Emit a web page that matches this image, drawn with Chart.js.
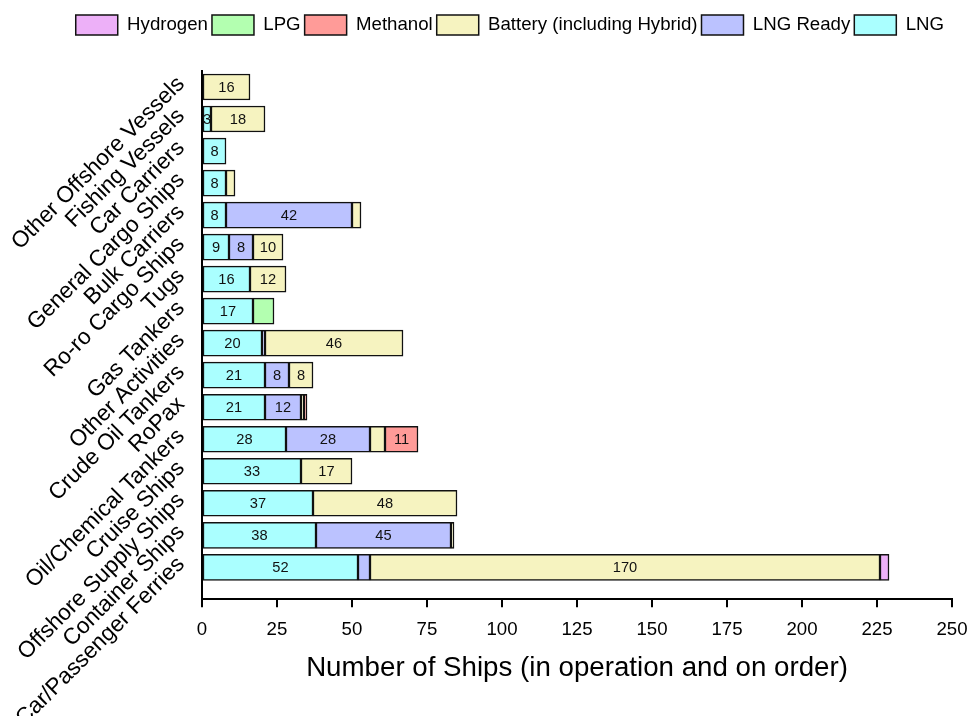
<!DOCTYPE html>
<html>
<head>
<meta charset="utf-8">
<script src="https://cdn.jsdelivr.net/npm/chart.js@4.4.1/dist/chart.umd.min.js"></script>
<style>
  html, body { margin: 0; padding: 0; background: #fff; }
  #wrap { width: 972px; height: 716px; position: relative; }
</style>
</head>
<body>
<div id="wrap"><canvas id="shipChart"></canvas></div>
<script>
const categories = ['Other Offshore Vessels', 'Fishing Vessels', 'Car Carriers', 'General Cargo Ships',
  'Bulk Carriers', 'Ro-ro Cargo Ships', 'Tugs', 'Gas Tankers', 'Other Activities', 'Crude Oil Tankers',
  'RoPax', 'Oil/Chemical Tankers', 'Cruise Ships', 'Offshore Supply Ships', 'Container Ships',
  'Car/Passenger Ferries'];

const lng      = [0, 3, 8, 8, 8, 9, 16, 17, 20, 21, 21, 28, 33, 37, 38, 52];
const lngReady = [0, 0, 0, 0, 42, 8, 0, 0, 1, 8, 12, 28, 0, 0, 45, 4];
const battery  = [16, 18, 0, 3, 3, 10, 12, 0, 46, 8, 1, 5, 17, 48, 1, 170];
const methanol = [0, 0, 0, 0, 0, 0, 0, 0, 0, 0, 1, 11, 0, 0, 0, 0];
const lpg      = [0, 0, 0, 0, 0, 0, 0, 7, 0, 0, 0, 0, 0, 0, 0, 0];
const hydrogen = [0, 0, 0, 0, 0, 0, 0, 0, 0, 0, 0, 0, 0, 0, 0, 3];

const xTicks = [0, 25, 50, 75, 100, 125, 150, 175, 200, 225, 250];

const FONT = '"Liberation Sans", Arial, Helvetica, sans-serif';

function serie(label, values, color) {
    return {
        label: label,
        data: values.map((v, i) => ({ x: v > 0 ? v : null, y: i })),
        backgroundColor: color,
        borderColor: '#111',
        borderWidth: 1.5,
        borderSkipped: false,
        barThickness: 26
    };
}

// etiquetas dentro de las barras
const barLabels = {
    id: 'barLabels',
    afterDatasetsDraw(chart) {
        const ctx = chart.ctx;
        ctx.save();
        ctx.font = '14.67px ' + FONT;
        ctx.fillStyle = '#111';
        ctx.textAlign = 'center';
        ctx.textBaseline = 'middle';
        chart.data.datasets.forEach((ds, di) => {
            const meta = chart.getDatasetMeta(di);
            meta.data.forEach((bar, i) => {
                const v = ds.data[i].x;
                if (!v) return;
                if (v < 8 && ds.label !== 'LNG') return;
                ctx.fillText(v, (bar.x + bar.base) / 2, bar.y + 1);
            });
        });
        ctx.restore();
    }
};

// espacio extra debajo de la leyenda y pequeño corrimiento a la izquierda
const legendGap = {
    id: 'legendGap',
    beforeInit(chart) {
        const fit = chart.legend.fit;
        chart.legend.fit = function () {
            fit.bind(chart.legend)();
            this.height += 26;
        };
    },
    afterLayout(chart) {
        chart.legend.left -= 4;
        chart.legend.right -= 4;
    }
};

new Chart(document.getElementById('shipChart'), {
    type: 'bar',
    data: {
        datasets: [
            serie('LNG', lng, '#aaffff'),
            serie('LNG Ready', lngReady, '#bbc2ff'),
            serie('Battery (including Hybrid)', battery, '#f6f3c0'),
            serie('Methanol', methanol, '#ff9b98'),
            serie('LPG', lpg, '#b3ffb0'),
            serie('Hydrogen', hydrogen, '#edb0f8')
        ]
    },
    plugins: [barLabels, legendGap],
    options: {
        indexAxis: 'y',
        responsive: true,
        maintainAspectRatio: false,
        animation: false,
        layout: { padding: { top: 11, right: 20, bottom: 31, left: 0 } },
        plugins: {
            tooltip: { enabled: false },
            legend: {
                position: 'top',
                align: 'end',
                reverse: true,
                labels: {
                    boxWidth: 42,
                    boxHeight: 20,
                    padding: 4,
                    color: '#000',
                    font: { family: FONT, size: 18.67 }
                }
            }
        },
        scales: {
            x: {
                type: 'linear',
                stacked: true,
                min: 0,
                max: 250,
                afterBuildTicks: scale => { scale.ticks = xTicks.map(v => ({ value: v })); },
                afterFit: scale => { scale.paddingRight = 0; },
                ticks: {
                    color: '#000',
                    padding: 11,
                    maxRotation: 0,
                    font: { family: FONT, size: 18.67 }
                },
                grid: {
                    drawOnChartArea: false,
                    drawTicks: true,
                    tickLength: 8,
                    color: '#000',
                    lineWidth: 2
                },
                border: { display: true, color: '#000', width: 2 },
                title: {
                    display: true,
                    text: 'Number of Ships (in operation and on order)',
                    color: '#000',
                    font: { family: FONT, size: 27.7 },
                    padding: { top: 0, bottom: 0 }
                }
            },
            y: {
                type: 'linear',
                stacked: true,
                reverse: true,
                offset: false,
                min: -0.5,
                max: 16,
                // etiquetas un poco por encima del centro de la barra, como en el original
                afterBuildTicks: scale => { scale.ticks = categories.map((c, i) => ({ value: i - 0.2 })); },
                afterFit: scale => { scale.width = 202; },
                ticks: {
                    color: '#000',
                    autoSkip: false,
                    minRotation: 45,
                    maxRotation: 45,
                    padding: 13,
                    font: { family: FONT, size: 22.67 },
                    callback: v => categories[Math.round(v)]
                },
                grid: { display: false, offset: false },
                border: { display: true, color: '#000', width: 2 }
            }
        }
    }
});
</script>
</body>
</html>
